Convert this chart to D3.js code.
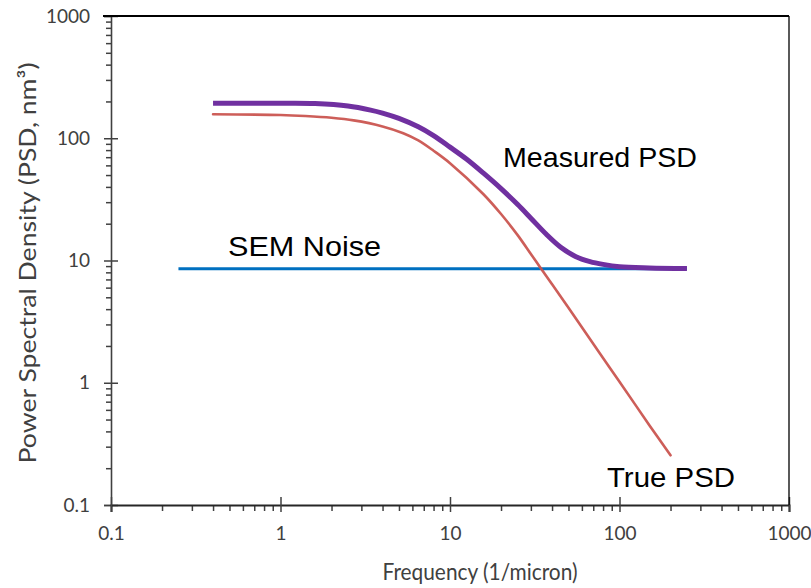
<!DOCTYPE html>
<html><head><meta charset="utf-8">
<script src="https://cdn.jsdelivr.net/npm/d3@7/dist/d3.min.js"></script>
<style>body{margin:0;background:#fff}</style>
</head><body><svg id="chart" width="811" height="588"></svg>
<script>
// ---- data ----
const xTicks = [0.1, 1, 10, 100, 1000];
const yTicks = [0.1, 1, 10, 100, 1000];
const xTickLabels = ["0.1", "1", "10", "100", "1000"];
const yTickLabels = ["0.1", "1", "10", "100", "1000"];

const measuredFreq = [0.4, 1, 1.6, 2.5, 3.4, 4, 5, 6.5, 8, 10, 12.5, 15.7, 20, 25, 30, 37, 45, 55, 67, 80, 100, 150, 250];
const measuredPSD  = [193, 193, 192, 183.6, 170, 160.6, 145.3, 124, 105, 84.6, 67.6, 52, 38.7, 28.8, 22.2, 16.4, 12.85, 10.8, 9.8, 9.3, 8.9, 8.7, 8.6];

const trueFreq = [0.4, 1, 1.4, 2, 2.7, 4, 5.3, 6.5, 8, 10, 15.7, 20, 25, 30, 34, 40, 50, 77, 100, 150, 200];
const truePSD  = [157, 155, 152, 147, 140, 125, 110, 96, 79, 62.5, 35, 24, 16.2, 11.3, 8.8, 6.4, 4.1, 1.72, 1.02, 0.45, 0.255];

const noiseFreq = [0.25, 250];
const noisePSD  = [8.55, 8.55];

const seriesLabels = ["Measured PSD", "SEM Noise", "True PSD"];
const xTitle = "Frequency (1/micron)";
const yTitle = "Power Spectral Density (PSD, nm³)";

// ---- layout ----
const svg = d3.select("#chart");
const L = 111, R = 789, T = 16, B = 505;
const x = d3.scaleLog().domain([0.1, 1000]).range([L, R]);
const y = d3.scaleLog().domain([0.1, 1000]).range([B, T]);

const minors = [];
[0.1, 1, 10, 100].forEach(d => { for (let k = 2; k <= 9; k++) minors.push(d * k); });

const tickFont = "Lato, 'Open Sans', sans-serif";
const grey = "#404040";

// minor ticks
svg.append("g").attr("transform", `translate(${L},0)`)
  .call(d3.axisLeft(y).tickValues(minors).tickSize(5).tickFormat(""))
  .call(g => g.select(".domain").remove())
  .call(g => g.selectAll("line").attr("stroke", grey).attr("stroke-width", 1.5));
svg.append("g").attr("transform", `translate(0,${B})`)
  .call(d3.axisBottom(x).tickValues(minors).tickSize(6).tickFormat(""))
  .call(g => g.select(".domain").remove())
  .call(g => g.selectAll("line").attr("stroke", grey).attr("stroke-width", 1.5));

// major axes
svg.append("g").attr("transform", `translate(${L},0)`)
  .call(d3.axisLeft(y).tickValues(yTicks).tickSize(7).tickPadding(14)
        .tickFormat((d, i) => yTickLabels[i]))
  .call(g => g.select(".domain").attr("stroke", grey).attr("stroke-width", 1.6))
  .call(g => g.selectAll(".tick line").attr("x1", 7).attr("stroke", grey).attr("stroke-width", 1.5))
  .call(g => g.selectAll("text").attr("font-family", tickFont).attr("font-size", 19).attr("fill", grey));

svg.append("g").attr("transform", `translate(0,${B})`)
  .call(d3.axisBottom(x).tickValues(xTicks).tickSize(7).tickPadding(15)
        .tickFormat((d, i) => xTickLabels[i]))
  .call(g => g.select(".domain").attr("stroke", "#262626").attr("stroke-width", 2))
  .call(g => g.selectAll(".tick line").attr("y1", -8).attr("stroke", grey).attr("stroke-width", 1.5))
  .call(g => g.selectAll("text").attr("font-family", tickFont).attr("font-size", 19).attr("fill", grey));

// top & right frame
svg.append("line").attr("x1", L - 8).attr("x2", R).attr("y1", T).attr("y2", T)
  .attr("stroke", "#000").attr("stroke-width", 2);
svg.append("line").attr("x1", R).attr("x2", R).attr("y1", T).attr("y2", B)
  .attr("stroke", "#000").attr("stroke-width", 1.3);

// series
const line = d3.line().x(d => x(d[0])).y(d => y(d[1])).curve(d3.curveCatmullRom.alpha(0.5));
const zip = (a, b) => a.map((v, i) => [v, b[i]]);

svg.append("path").datum(zip(noiseFreq, noisePSD)).attr("d", line)
  .attr("fill", "none").attr("stroke", "#0070C0").attr("stroke-width", 3);
svg.append("path").datum(zip(trueFreq, truePSD)).attr("d", line)
  .attr("fill", "none").attr("stroke", "#C9504B").attr("stroke-width", 2.6)
  .attr("stroke-linecap", "round").attr("opacity", 0.92);
svg.append("path").datum(zip(measuredFreq, measuredPSD)).attr("d", line)
  .attr("fill", "none").attr("stroke", "#7030A0").attr("stroke-width", 5);

// series labels
const labFont = "'Liberation Sans', Arial, sans-serif";
const labs = [
  {t: seriesLabels[0], x: 503, y: 167, w: 194},
  {t: seriesLabels[1], x: 228, y: 256, w: 153},
  {t: seriesLabels[2], x: 607, y: 487, w: 128}
];
labs.forEach(l => {
  svg.append("text").attr("x", l.x).attr("y", l.y).text(l.t)
    .attr("font-family", labFont).attr("font-size", 28).attr("fill", "#000")
    .attr("textLength", l.w).attr("lengthAdjust", "spacingAndGlyphs");
});

// axis titles
svg.append("text").attr("x", 480).attr("y", 580).attr("text-anchor", "middle")
  .attr("font-family", tickFont).attr("font-size", 23.5).attr("fill", grey)
  .attr("textLength", 195).attr("lengthAdjust", "spacingAndGlyphs").text(xTitle);
svg.append("text").attr("transform", "translate(36,263) rotate(-90)")
  .attr("text-anchor", "middle")
  .attr("font-family", tickFont).attr("font-size", 23.5).attr("fill", grey)
  .attr("textLength", 401).attr("lengthAdjust", "spacingAndGlyphs").text(yTitle);
</script></body></html>
